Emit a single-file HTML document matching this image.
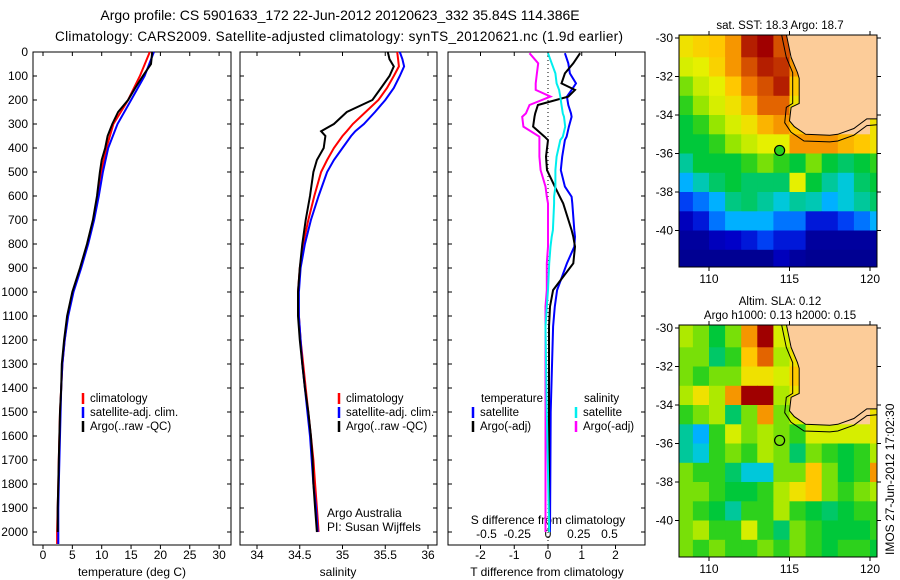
<!DOCTYPE html>
<html><head><meta charset="utf-8"><style>
body{margin:0;background:#fff;}
svg{display:block;font-family:"Liberation Sans",sans-serif;}
</style></head><body>
<svg id="fig" width="900" height="580" xmlns="http://www.w3.org/2000/svg">
<text x="340" y="20" font-size="14" text-anchor="middle">Argo profile: CS 5901633_172 22-Jun-2012 20120623_332 35.84S 114.386E</text>
<text x="339" y="41" font-size="13.5" text-anchor="middle" textLength="568">Climatology: CARS2009. Satellite-adjusted climatology: synTS_20120621.nc (1.9d earlier)</text>
<g id="plots"></g>
</svg>
<script>
// ---------- data ----------
const depthT=[0,50,100,150,200,250,300,350,400,450,500,600,700,800,900,1000,1100,1200,1300,1400,1500,1600,1700,1800,1900,2000];
const tempArgo=[18.6,18.4,17,15.7,14.5,12.8,11.8,11,10.6,10,9.7,9.2,8.5,7.5,6.3,5,4.1,3.6,3.2,3.1,2.9,2.8,2.7,2.6,2.5,2.5];
const depthC=[0,100,200,300,400,500,600,700,800,900,1000,1100,1200,1300,1400,1500,1600,1700,1800,1900,2000,2050];
const tempClim=[18.2,16.5,14.5,12,10.8,9.9,9.3,8.6,7.6,6.4,5.1,4.2,3.7,3.3,3.1,2.9,2.8,2.7,2.6,2.5,2.4,2.4];
const tempSat=[18.9,17.3,15,12.7,11.1,10.2,9.5,8.7,7.7,6.5,5.2,4.3,3.7,3.3,3.1,3.0,2.9,2.8,2.7,2.6,2.6,2.6];
const depthS=[0,30,60,100,150,200,250,300,330,350,400,450,500,600,700,800,900,1000,1100,1200,1300,1400,1500,1600,1700,1800,1900,2000];
const salArgo=[35.53,35.55,35.6,35.55,35.45,35.35,35.05,34.9,34.75,34.8,34.78,34.7,34.66,34.62,34.57,34.53,34.5,34.48,34.48,34.5,34.53,34.56,34.6,34.63,34.65,34.66,34.68,34.7];
const salClim=[35.64,35.65,35.66,35.6,35.52,35.42,35.27,35.12,35.05,35.0,34.9,34.82,34.75,34.67,34.6,34.54,34.5,34.48,34.49,34.51,34.54,34.57,34.6,34.63,34.66,34.68,34.7,34.72];
const salSat=[35.67,35.7,35.72,35.67,35.6,35.5,35.38,35.25,35.15,35.1,35.0,34.9,34.82,34.72,34.63,34.56,34.51,34.49,34.49,34.51,34.53,34.56,34.59,34.62,34.64,34.66,34.69,34.71];
const depthD=[5,47,89,131,158,186,221,256,270,311,353,367,436,492,561,603,631,742,770,811,881,992,1061,1144,1500,2000];
const tdiffSat=[0.5,0.6,0.65,0.83,0.7,0.56,0.6,0.68,0.7,0.62,0.55,0.5,0.42,0.38,0.5,0.7,0.72,0.78,0.8,0.78,0.56,0.27,0.2,0.15,0.08,0.06];
const tdiffArgo=[0.95,0.75,0.5,0.4,0.8,0.6,-0.3,-0.38,-0.4,-0.44,-0.1,0,-0.06,-0.03,0.2,0.35,0.45,0.7,0.75,0.8,0.75,0.15,0.06,0.03,0.03,0.03];
const sdiffSat=[0,0.03,0.06,0.07,0.09,0.1,0.11,0.12,0.13,0.14,0.12,0.1,0.07,0.06,0.06,0.05,0.05,0.04,0.03,0.02,0.01,0,-0.01,-0.02,-0.01,0.01];
const sdiffArgo=[-0.15,-0.08,-0.09,-0.1,-0.1,0.02,-0.15,-0.18,-0.21,-0.2,-0.07,-0.07,-0.07,-0.06,-0.02,-0.01,0,0,0,0,-0.01,-0.01,-0.02,-0.02,-0.02,-0.02];
const depthTicks=[0,100,200,300,400,500,600,700,800,900,1000,1100,1200,1300,1400,1500,1600,1700,1800,1900,2000];
const tempTicks=[0,5,10,15,20,25,30];
const salTicks=["34","34.5","35","35.5","36"];
const tdTicks=[-2,-1,0,1,2];
const sdTickLabels=["-0.5","-0.25","0","0.25","0.5"];
const latTicks=[-30,-32,-34,-36,-38,-40];
const lonTicks=[110,115,120];
const gridLon=[108,109,110,111,112,113,114,115,116,117,118,119,120];
const gridLat=[-30,-31,-32,-33,-34,-35,-36,-37,-38,-39,-40,-41];
const L=-1;
const sstGrid=[
[.75,.78,.8,.85,.97,1,.92,L,L,L,L,L,L],
[.7,.72,.78,.85,.92,.97,.95,.85,L,L,L,L,L],
[.6,.68,.72,.8,.88,.92,.97,.8,L,L,L,L,L],
[.55,.62,.7,.75,.82,.9,.9,.75,L,L,L,L,L],
[.5,.55,.62,.7,.75,.82,.85,.8,L,L,L,L,.75],
[.5,.5,.55,.62,.68,.72,.72,.85,.85,.85,.82,.8,.75],
[.4,.5,.5,.5,.55,.6,.55,.5,.6,.5,.45,.5,.55],
[.3,.38,.45,.5,.45,.45,.45,.72,.5,.4,.35,.45,.5],
[.2,.25,.3,.42,.45,.4,.35,.4,.38,.3,.35,.4,.45],
[.1,.15,.25,.3,.3,.3,.25,.25,.15,.15,.2,.25,.3],
[.05,.05,.1,.12,.15,.2,.15,.15,.05,.05,.05,.05,.05],
[.03,.03,.03,.03,.03,.03,.1,.05,.03,.03,.03,.03,.03]];
const slaGrid=[
[.65,.6,.5,.6,.85,1,.7,L,L,L,L,L,L],
[.6,.6,.45,.55,.8,.9,.65,.75,L,L,L,L,L],
[.6,.55,.6,.6,.75,.75,.7,.8,L,L,L,L,L],
[.65,.75,.65,.85,1,1,.65,.75,L,L,L,L,L],
[.55,.6,.65,.45,.6,.85,.6,.7,L,L,L,L,.75],
[.4,.3,.55,.7,.6,.65,.6,.55,.7,.7,.7,.7,.75],
[.4,.35,.55,.6,.55,.65,.6,.45,.6,.55,.5,.55,.65],
[.6,.55,.55,.45,.35,.35,.6,.6,.8,.6,.5,.55,.85],
[.6,.6,.55,.5,.5,.55,.65,.75,.8,.6,.55,.6,.65],
[.6,.55,.5,.4,.55,.55,.65,.55,.5,.45,.5,.55,.55],
[.6,.65,.55,.55,.7,.55,.45,.6,.55,.5,.5,.5,.55],
[.6,.55,.6,.55,.55,.6,.55,.6,.55,.5,.55,.55,.5]];
const coastLon=[114.8,115.1,115.5,115.6,115.6,115.1,115.0,115.3,116,117.5,118,119,119.8,120.6,120.6];
const coastLat=[-29.8,-31,-31.8,-32.1,-33.4,-33.6,-34.3,-34.6,-35,-35.05,-35,-34.7,-34.2,-34.2,-29.8];
const shelfLon=[114.5,114.8,115.2,115.2,115.2,114.8,114.7,115.1,115.9,117.5,118,119,119.8,120.6];
const shelfLat=[-29.8,-31,-31.8,-32.1,-33.4,-33.6,-34.4,-34.9,-35.35,-35.4,-35.35,-35.05,-34.55,-34.5];
const argoLon=114.386, argoLat=-35.84;

// ---------- drawing ----------
const NS="http://www.w3.org/2000/svg";
const root=document.getElementById('plots');
function mk(tag,attrs,parent){const e=document.createElementNS(NS,tag);for(const k in attrs)e.setAttribute(k,attrs[k]);(parent||root).appendChild(e);return e;}
function txt(x,y,s,size,anchor,parent){const t=mk('text',{x:x,y:y,'font-size':size,'text-anchor':anchor||'middle'},parent);t.textContent=s;return t;}

const PY0=52, PPM=0.24, PBOT=545;
const yD=d=>PY0+d*PPM;
const panels=[{x0:33,x1:231},{x0:240,x1:437},{x0:448,x1:645}];
const xT=v=>43+v*5.87;
const xS=v=>257+(v-34)*85.5;
const xTD=v=>548+v*33.75;
const xSD=v=>548+v*123;

function series(xs,ds,fx,color,w,name){
  const p=mk('polyline',{points:xs.map((v,i)=>fx(v).toFixed(1)+','+yD(ds[i]).toFixed(1)).join(' '),fill:'none',stroke:color,'stroke-width':w});
  
  
}
panels.forEach((p,i)=>{
  const r=mk('rect',{x:p.x0,y:PY0,width:p.x1-p.x0,height:PBOT-PY0,fill:'none',stroke:'#000','stroke-width':1});
  
  
  depthTicks.forEach(d=>{
    mk('line',{x1:p.x0,x2:p.x0+4,y1:yD(d),y2:yD(d),stroke:'#000'});
    mk('line',{x1:p.x1,x2:p.x1-4,y1:yD(d),y2:yD(d),stroke:'#000'});
    if(i==0){const t=txt(28,yD(d)+4,String(d),12,'end');}
  });
});
function xticks(vals,labels,fx,yl,top){
  vals.forEach((v,i)=>{const x=fx(v);
    mk('line',{x1:x,x2:x,y1:PBOT,y2:PBOT+4,stroke:'#000'});
    if(top) mk('line',{x1:x,x2:x,y1:PY0,y2:PY0+4,stroke:'#000'});
    const t=txt(x,yl,labels[i],12,'middle');
    
    
  });
}
xticks(tempTicks,tempTicks.map(String),xT,559,true);
xticks(salTicks.map(Number),salTicks,xS,559,true);
xticks(tdTicks,tdTicks.map(String),xTD,559,true);
sdTickLabels.forEach(s=>{const t=txt(xSD(Number(s)),538,s,12,'middle');});
[['temperature (deg C)',132,'temperature-axis-title'],['salinity',338,'salinity-axis-title'],['T difference from climatology',547,'t-diff-axis-title']].forEach(a=>{const t=txt(a[1],576,a[0],12,'middle');});
const sdt=txt(548,524,'S difference from climatology',12,'middle');

mk('line',{x1:548,x2:548,y1:PY0,y2:PBOT,stroke:'#000','stroke-dasharray':'1,3'});
series(tempClim,depthC,xT,'#f00',2,'temp-climatology-line');
series(tempSat,depthC,xT,'#00f',2,'temp-satellite-line');
series(tempArgo,depthT,xT,'#000',2,'temp-argo-line');
series(salClim,depthS,xS,'#f00',2,'sal-climatology-line');
series(salSat,depthS,xS,'#00f',2,'sal-satellite-line');
series(salArgo,depthS,xS,'#000',2,'sal-argo-line');
series(sdiffArgo,depthD,xSD,'#f0f',2,'sdiff-argo-line');
series(tdiffSat,depthD,xTD,'#00f',2,'tdiff-satellite-line');
series(tdiffArgo,depthD,xTD,'#000',2,'tdiff-argo-line');
series(sdiffSat,depthD,xSD,'#0ee',2,'sdiff-satellite-line');
function leg(x,y,color,label,name){
  mk('line',{x1:x,x2:x,y1:y-9,y2:y+2,stroke:color,'stroke-width':2.5});
  const t=txt(x+7,y,label,11.5,'start');
  
}
leg(83,402,'#f00','climatology','legend-climatology');
leg(83,416,'#00f','satellite-adj. clim.','legend-satellite');
leg(83,430,'#000','Argo(..raw -QC)','legend-argo');
leg(339,402,'#f00','climatology','legend-climatology-2');
leg(339,416,'#00f','satellite-adj. clim.','legend-satellite-2');
leg(339,430,'#000','Argo(..raw -QC)','legend-argo-2');
const lt=txt(481,402,'temperature',11.5,'start');
const ls=txt(584,402,'salinity',11.5,'start');
leg(473,416,'#00f','satellite','legend-t-satellite');
leg(473,430,'#000','Argo(-adj)','legend-t-argo');
leg(576,416,'#0ee','satellite','legend-s-satellite');
leg(576,430,'#f0f','Argo(-adj)','legend-s-argo');
txt(327,517,'Argo Australia',12,'start');
txt(327,531,'PI: Susan Wijffels',12,'start');

// ---------- maps ----------
function jet(v){
  const stops=[[0,[0,0,128]],[0.12,[0,0,200]],[0.22,[0,80,255]],[0.32,[0,200,255]],[0.42,[0,200,130]],[0.52,[0,200,40]],[0.62,[150,230,0]],[0.72,[230,240,0]],[0.8,[255,200,0]],[0.88,[240,120,0]],[1,[160,0,0]]];
  for(let i=1;i<stops.length;i++){if(v<=stops[i][0]){const a=stops[i-1],b=stops[i],t=(v-a[0])/(b[0]-a[0]);return 'rgb('+a[1].map((c,k)=>Math.round(c+(b[1][k]-c)*t)).join(',')+')';}}
  return 'rgb(160,0,0)';
}
function drawMap(top,bottom,lat30y,grid,name,titleLines){
  const X0=679,X1=877;
  const xL=lon=>709+(lon-110)*16.1;
  const yL=lat=>lat30y+(-30-lat)*19.25;
  const g=mk('g',{});
  
  
  const cid='clip'+name;
  const cp=mk('clipPath',{id:cid},g);mk('rect',{x:X0,y:top,width:X1-X0,height:bottom-top},cp);
  const cg=mk('g',{'clip-path':'url(#'+cid+')'},g);
  mk('rect',{x:X0,y:top,width:X1-X0,height:bottom-top,fill:'#fccc99'},cg);
  grid.forEach((row,r)=>row.forEach((v,c)=>{
    if(v<0)return;
    const lon=gridLon[c], lat=gridLat[r];
    const x=xL(lon), y=yL(lat);
    const h=(r==0)?yL(lat-1)-top+1:yL(lat-1)-y+0.5;
    const yy=(r==0)?top:y;
    const hh=(r==gridLat.length-1)?bottom-yy:h;
    const cell=mk('rect',{x:(c==0?X0:x).toFixed(1),y:yy.toFixed(1),width:((c==0?xL(lon+1)-X0:16.1)+0.5).toFixed(1),height:hh.toFixed(1),fill:jet(v)},cg);
    
    
  }));
  const pts=coastLon.map((lo,i)=>xL(lo).toFixed(1)+','+yL(coastLat[i]).toFixed(1)).join(' ');
  const land=mk('polygon',{points:pts,fill:'#fccc99',stroke:'#000','stroke-width':1},cg);
  
  const off=shelfLon.map((lo,i)=>xL(lo).toFixed(1)+','+yL(shelfLat[i]).toFixed(1)).join(' ');
  const sh=mk('polyline',{points:off,fill:'none',stroke:'#000','stroke-width':1},cg);
  
  mk('rect',{x:X0,y:top,width:X1-X0,height:bottom-top,fill:'none',stroke:'#000'},g);
  const c=mk('circle',{cx:xL(argoLon),cy:yL(argoLat),r:5,fill:jet(grid[6][6]),stroke:'#000','stroke-width':1.2},g);
  
  latTicks.forEach(l=>{mk('line',{x1:X0-4,x2:X0,y1:yL(l),y2:yL(l),stroke:'#000'},g);mk('line',{x1:X1,x2:X1+4,y1:yL(l),y2:yL(l),stroke:'#000'},g);
    const t=txt(X0-6,yL(l)+4,String(l),12,'end',g);});
  lonTicks.forEach(l=>{mk('line',{x1:xL(l),x2:xL(l),y1:top-4,y2:top,stroke:'#000'},g);mk('line',{x1:xL(l),x2:xL(l),y1:bottom,y2:bottom+4,stroke:'#000'},g);
    const t=txt(xL(l),bottom+16,String(l),12,'middle',g);});
  titleLines.forEach((s,i)=>{const t=txt(780,top-14*(titleLines.length-i)+8,s,11.5,'middle',g);});
}
drawMap(35,267,38,sstGrid,'sst-map',['sat. SST: 18.3 Argo: 18.7']);
drawMap(325,557,328,slaGrid,'sla-map',['Altim. SLA: 0.12','Argo h1000: 0.13 h2000: 0.15']);
const im=txt(0,0,'IMOS 27-Jun-2012 17:02:30',12,'start');
im.setAttribute('transform','translate(894,555) rotate(-90)');


</script>
</body></html>
